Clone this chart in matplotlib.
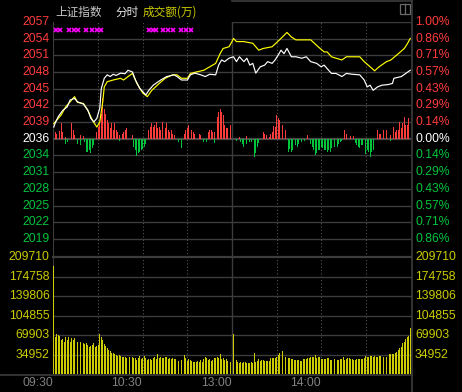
import matplotlib.pyplot as plt
from matplotlib.lines import Line2D
from matplotlib.patches import Rectangle
from matplotlib.transforms import blended_transform_factory

# Données (上证指数 分时)
prev_close = 2036.45

price_labels = ["2057", "2054", "2051", "2048", "2045", "2042", "2039", "2036",
                "2034", "2031", "2028", "2025", "2022", "2019"]
pct_labels = ["1.00%", "0.86%", "0.71%", "0.57%", "0.43%", "0.29%", "0.14%", "0.00%",
              "0.14%", "0.29%", "0.43%", "0.57%", "0.71%", "0.86%"]
vol_ticks = [209710, 174758, 139806, 104855, 69903, 34952]
time_ticks = [0, 60, 120, 180]
time_labels = ["09:30", "10:30", "13:00", "14:00"]

# ligne blanche (indice)
white_t = [0, 1, 3, 6, 9, 11, 14, 16, 20, 23, 25, 27, 29, 31, 32, 34, 36, 38, 40, 42, 45, 48,
           50, 53, 55, 58, 62, 64, 67, 72, 76, 81, 83, 86, 90, 92, 95, 99, 102, 105, 109,
           111, 113, 115, 118, 121, 123, 125, 128, 130, 132, 134, 136, 139, 142, 144, 147,
           149, 151, 153, 155, 157, 160, 163, 167, 170, 173, 177, 180, 182, 184, 187, 190,
           194, 197, 201, 206, 209, 211, 213, 215, 218, 221, 225, 228, 229, 234, 237, 240]
white_p = [2038.5, 2039.2, 2040.3, 2041.4, 2042.0, 2043.2, 2043.5, 2042.9, 2042.5, 2041.4,
           2040.0, 2039.4, 2040.0, 2041.8, 2045.2, 2047.0, 2047.6, 2047.3, 2047.7, 2047.5,
           2047.9, 2047.8, 2048.4, 2048.1, 2046.7, 2045.2, 2044.1, 2044.9, 2045.8, 2046.7,
           2047.3, 2047.6, 2047.3, 2046.7, 2046.7, 2047.6, 2047.9, 2047.6, 2047.3, 2047.7,
           2047.6, 2049.3, 2050.2, 2049.9, 2050.5, 2050.75, 2049.9, 2050.75, 2049.9, 2050.5,
           2049.3, 2049.6, 2047.9, 2049.0, 2049.3, 2049.9, 2049.6, 2050.2, 2051.0, 2051.9,
           2051.3, 2052.2, 2050.75, 2050.75, 2050.5, 2050.75, 2049.9, 2049.6, 2049.0, 2049.3,
           2048.7, 2047.85, 2047.85, 2047.3, 2047.85, 2047.7, 2047.6, 2046.7, 2045.5, 2045.8,
           2044.9, 2045.5, 2045.8, 2045.9, 2046.1, 2047.0, 2047.3, 2047.85, 2048.4]

# ligne jaune
yellow_t = [0, 5, 8, 11, 14, 16, 20, 23, 26, 29, 31, 33, 34, 36, 40, 45, 47, 50, 53, 56, 60,
            63, 66, 71, 75, 80, 83, 86, 90, 92, 96, 101, 105, 109, 112, 114, 118, 120, 121,
            123, 128, 134, 138, 141, 147, 152, 157, 160, 163, 168, 173, 178, 182, 184, 187,
            190, 194, 197, 201, 206, 209, 213, 216, 219, 224, 227, 232, 236, 238, 240]
yellow_p = [2039.1, 2040.6, 2042.0, 2042.9, 2043.8, 2042.8, 2042.6, 2041.4, 2039.7, 2038.5,
            2039.4, 2042.9, 2045.5, 2046.4, 2046.7, 2047.0, 2046.7, 2047.3, 2047.85, 2046.1,
            2044.4, 2043.8, 2044.9, 2046.1, 2047.0, 2047.6, 2047.6, 2047.0, 2047.0, 2047.85,
            2048.1, 2048.4, 2049.0, 2049.6, 2051.3, 2052.2, 2052.5, 2053.4, 2053.95, 2053.4,
            2053.4, 2053.1, 2051.9, 2052.2, 2052.5, 2053.7, 2055.0, 2054.2, 2053.7, 2053.7,
            2053.7, 2052.5, 2051.6, 2051.6, 2050.75, 2050.5, 2050.2, 2050.75, 2050.75, 2050.75,
            2049.9, 2049.0, 2048.3, 2049.0, 2049.9, 2050.2, 2051.3, 2052.2, 2053.0, 2053.95]

# barres rouges / vertes autour du cours de clôture (points d'indice)
red_t = [1, 2, 4, 5, 6, 8, 12, 13, 14, 17, 18, 20,
         29, 30, 31, 32, 33, 34, 35, 36, 37, 38, 39, 40, 41, 42, 43, 44,
         46, 47, 48, 49, 50, 52, 53,
         64, 65, 66, 67, 68, 69, 70, 71, 72, 73, 75, 76, 77, 78, 79, 80, 81,
         88, 89, 90, 91, 93, 94, 95, 98, 99,
         104, 105, 106, 107, 108, 110, 111, 112, 113, 114, 115, 116, 117, 118, 119, 120,
         125, 130, 141, 142, 143, 145, 146, 147, 148, 149, 150, 151, 152, 153, 154, 155, 156,
         171, 196, 197, 200, 202,
         218, 219, 220, 222, 223, 224, 225, 227, 229, 230, 231, 232, 233, 234, 235, 236, 237,
         238, 239]
red_v = [1.10, 0.75, 1.39, 2.67, 1.22, 0.35, 2.67, 1.52, 0.64, 0.47, 0.64, 0.47,
         1.22, 2.09, 2.67, 4.41, 7.03, 5.28, 4.41, 3.26, 2.67, 1.80, 2.67, 1.52, 2.67, 1.52,
         1.22, 0.64,
         0.92, 1.22, 1.52, 1.80, 1.22, 0.92, 0.64,
         1.52, 2.09, 2.67, 2.09, 2.39, 2.96, 1.80, 2.09, 1.52, 2.96, 1.80, 2.67, 1.52, 1.22,
         1.52, 0.92, 0.64,
         0.92, 1.52, 1.80, 2.39, 1.52, 1.22, 0.92, 0.92, 0.64,
         1.22, 1.52, 1.52, 1.22, 1.22, 3.84, 4.71, 5.17, 4.71, 4.13, 2.39, 1.80, 1.80, 2.96,
         2.39, 2.67,
         0.35, 0.52, 1.10, 0.82, 0.64, 0.35, 0.92, 1.22, 2.21, 2.09, 4.13, 3.54, 3.26, 2.96,
         2.39, 1.80, 1.62,
         0.64, 1.62, 0.92, 0.47, 0.47,
         1.52, 0.92, 0.82, 1.52, 1.10, 1.62, 1.69, 0.64, 2.09, 1.22, 1.52, 1.62, 2.96, 1.80,
         2.67, 3.84, 2.39, 2.39, 3.54]
green_t = [8, 9, 15, 16, 17, 18, 21, 22, 23, 24, 25, 26, 27,
           44, 54, 55, 56, 57, 58, 59, 60, 61, 62,
           84, 85, 86, 101, 103, 108,
           122, 123, 126, 127, 128, 130, 132, 133, 135, 136, 137, 138,
           158, 159, 160, 161, 163, 164, 165, 167, 169,
           173, 174, 175, 176, 177, 178, 179, 180, 181, 182, 183, 184, 185, 186, 187, 188, 189,
           190, 191, 192, 193, 194,
           203, 204, 205, 206, 207, 208, 210, 211, 212, 213, 214, 215, 227]
green_v = [0.82, 0.52, 0.52, 0.82, 1.69, 1.10, 0.52, 2.27, 2.27, 1.97, 2.56, 1.69, 1.10,
           0.35, 1.39, 1.97, 3.02, 2.56, 2.27, 1.97, 1.86, 1.39, 0.82,
           0.52, 0.82, 1.69, 0.52, 0.58, 0.70,
           0.23, 0.35, 0.52, 0.92, 1.39, 0.82, 0.52, 0.52, 3.26, 2.56, 1.39, 0.70,
           2.27, 1.80, 2.27, 1.97, 1.10, 1.39, 0.82, 0.52, 0.35,
           0.82, 1.39, 1.97, 2.84, 2.44, 1.97, 1.97, 1.39, 1.69, 1.97, 1.97, 2.27, 1.97, 2.27,
           1.69, 1.97, 1.39, 1.39, 1.39, 0.82, 0.52, 0.35,
           0.70, 1.10, 1.39, 1.69, 1.10, 1.10, 2.67, 1.97, 2.27, 3.14, 2.27, 1.97, 0.35]

# volume par minute (万)
volume = [193700, 67400, 72100, 70300, 68500, 61400, 63200, 58400, 66200, 61400,
          66200, 58400, 64400, 61400, 64400, 60200, 58400, 56600, 58400, 55400,
          56600, 54200, 55400, 52400, 48300, 50700, 52400, 56600, 48300, 50700,
          52400, 72100, 66200, 61400, 54200, 50700, 46500, 43500, 42300, 38700,
          37500, 36400, 34600, 32800, 34600, 32800, 31600, 30400, 31600, 28600,
          31600, 30400, 28600, 31600, 29800, 28600, 25600, 29800, 32800, 27400,
          29800, 32800, 28600, 25600, 27400, 26800, 25600, 28600, 30400, 26800,
          36400, 28600, 31600, 29800, 28600, 31600, 30400, 28000, 28600, 26800,
          29800, 28000, 26800, 24400, 23800, 24400, 25600, 30400, 34600, 28600,
          24400, 26800, 25600, 24400, 22600, 22600, 22600, 24400, 22600, 25600,
          22600, 26800, 30400, 28600, 25600, 26800, 24400, 25600, 29800, 29800,
          30400, 29800, 36400, 26800, 28600, 25600, 26800, 24400, 26800, 22600,
          22600, 72100, 22600, 25600, 22600, 19700, 22600, 20900, 22600, 22600,
          19700, 19700, 20900, 22600, 20900, 37500, 22600, 23800, 26800, 24400,
          25600, 25600, 24400, 24400, 24400, 24400, 29800, 28600, 29800, 28600,
          31600, 34600, 37500, 36400, 42300, 34600, 31600, 31600, 28600, 28600,
          26800, 26800, 25600, 25600, 25600, 25600, 24400, 24400, 26800, 26800,
          26800, 28600, 28600, 30400, 30400, 31600, 34600, 28600, 31600, 31600,
          26800, 26800, 26800, 26800, 28600, 28600, 25600, 25600, 25600, 26800,
          26800, 25600, 25600, 26800, 26800, 31600, 25600, 26800, 28600, 28600,
          26800, 26800, 25600, 25600, 26800, 26800, 26800, 26800, 26800, 28600,
          32800, 31600, 31600, 32800, 32800, 31600, 32800, 31600, 31600, 32800,
          32800, 32800, 31600, 31600, 31600, 35800, 35800, 35800, 35800, 36400,
          37500, 40500, 43500, 46500, 49500, 55400, 58400, 63200, 66200, 68500, 82200]

# repères magenta en haut du graphe
mark_t = [1.5, 4.5, 10.5, 13.5, 16.5, 22, 25.5, 29, 32,
          64, 66.5, 69, 73.5, 77, 80.5, 85.5, 89, 92.5]

W, H = 462, 392
grid_c = "#3c3c3c"
red_c = "#ff3c3c"
green_c = "#00c43c"
vol_c = "#cccc00"
plt.rcParams['font.family'] = ['Liberation Sans', 'DejaVu Sans']


def rect(l, t, r, b):
    return [l / W, 1 - b / H, (r - l) / W, (b - t) / H]


fig = plt.figure(figsize=(W / 100, H / 100), dpi=100, facecolor="black")

ax_p = fig.add_axes(rect(53, 22, 411, 257))
ax_v = fig.add_axes(rect(53, 257, 411, 374.3))
for ax in (ax_p, ax_v):
    ax.set_facecolor("black")
    ax.set_xlim(-0.5, 240.5)
    ax.set_xticks([])
    ax.set_yticks([])
    for s in ax.spines.values():
        s.set_visible(False)
    # lignes verticales
    for t in [30, 60, 90, 150, 180, 210]:
        ax.axvline(t, color="#555555", ls=(0, (1, 2)), lw=0.8, zorder=1)
    ax.axvline(120, color=grid_c, lw=1, zorder=1)
    ax.axvline(-0.5, color=grid_c, lw=1.5, zorder=1)

ax_p.set_ylim(prev_close * (1 - 0.01012), prev_close * 1.01)
ax_v.set_ylim(0, 209710)

# grille horizontale + étiquettes du cours
levels = [prev_close * (1 + k / 700) for k in range(7, -7, -1)]
tl = blended_transform_factory(fig.transFigure, ax_p.transData)
for i, lev in enumerate(levels):
    k = 7 - i
    if k == 7:
        ax_p.axhline(lev, xmin=120.5 / 241, color=grid_c, lw=1, zorder=1)
    else:
        ax_p.axhline(lev, color=grid_c if k else "#4a4a4a", lw=1.0 if k else 1.6, zorder=1)
    col = red_c if k > 0 else ("#ffffff" if k == 0 else green_c)
    fig.text(49.5 / W, lev, price_labels[i], transform=tl, color=col, fontsize=8.7,
             ha="right", va="center")
    fig.text(415 / W, lev, pct_labels[i], transform=tl, color=col, fontsize=8.7,
             ha="left", va="center")

# barres rouges / vertes
ax_p.bar(red_t, red_v, bottom=prev_close, width=0.62, color=red_c, lw=0, zorder=2)
ax_p.bar(green_t, [-v for v in green_v], bottom=prev_close, width=0.62, color=green_c,
         lw=0, zorder=2)

# courbes
ax_p.plot(yellow_t, yellow_p, color="#ffff00", lw=0.85, zorder=3)
ax_p.plot(white_t, white_p, color="#ffffff", lw=0.85, zorder=4)

# repères
tm = blended_transform_factory(ax_p.transData, ax_p.transAxes)
ax_p.plot(mark_t, [0.967] * len(mark_t), "x", color="#ff00ff", ms=3.2, mew=1.2,
          transform=tm, clip_on=False)

# volume
tv = blended_transform_factory(fig.transFigure, ax_v.transData)
for v in vol_ticks:
    ax_v.axhline(v, color=grid_c, lw=1.6 if v == vol_ticks[0] else 1.0, zorder=1,
                 clip_on=False)
    fig.text(49.5 / W, v, str(v), transform=tv, color=vol_c, fontsize=8.7,
             ha="right", va="center")
    fig.text(415 / W, v, str(v), transform=tv, color=vol_c, fontsize=8.7,
             ha="left", va="center")
ax_v.bar(range(len(volume)), volume, width=0.62, color=vol_c, lw=0, zorder=2)

# axe du temps
tt = blended_transform_factory(ax_v.transData, fig.transFigure)
for t, lab in zip(time_ticks, time_labels):
    fig.text(t - 0.5, 1 - 382.5 / H, lab, transform=tt, color="#808080", fontsize=8.7,
             ha="right", va="center")

# cadre
fig.add_artist(Line2D([411.5 / W, 411.5 / W], [0, 1], color=grid_c, lw=1.2))
fig.add_artist(Line2D([0, 411.5 / W], [1 - 374.5 / H, 1 - 374.5 / H], color=grid_c, lw=1.2))
fig.add_artist(Line2D([232 / W, 411.5 / W], [1 - 1 / H, 1 - 1 / H], color=grid_c, lw=1.2))

# icône en haut à droite
fig.add_artist(Rectangle((399.5 / W, 1 - 14 / H), 10 / W, 10 / H, fill=False,
                         ec="#6a6a6a", lw=0.9, transform=fig.transFigure))
fig.add_artist(Line2D([404.5 / W, 404.5 / W], [1 - 14 / H, 1 - 4 / H], color="#6a6a6a",
                      lw=0.9))

# titre
cjk = ['Noto Sans CJK SC', 'DejaVu Sans']
fig.text(55 / W, 1 - 12 / H, "上证指数", color="#c8c8c8", fontsize=8.4, family=cjk,
         va="center")
fig.text(115 / W, 1 - 12 / H, "分时", color="#e6e6e6", fontsize=8.4, family=cjk,
         va="center")
fig.text(143 / W, 1 - 12 / H, "成交额(万)", color=vol_c, fontsize=8.4, family=cjk,
         va="center")

fig.savefig("out.png", dpi=100, facecolor="black")
